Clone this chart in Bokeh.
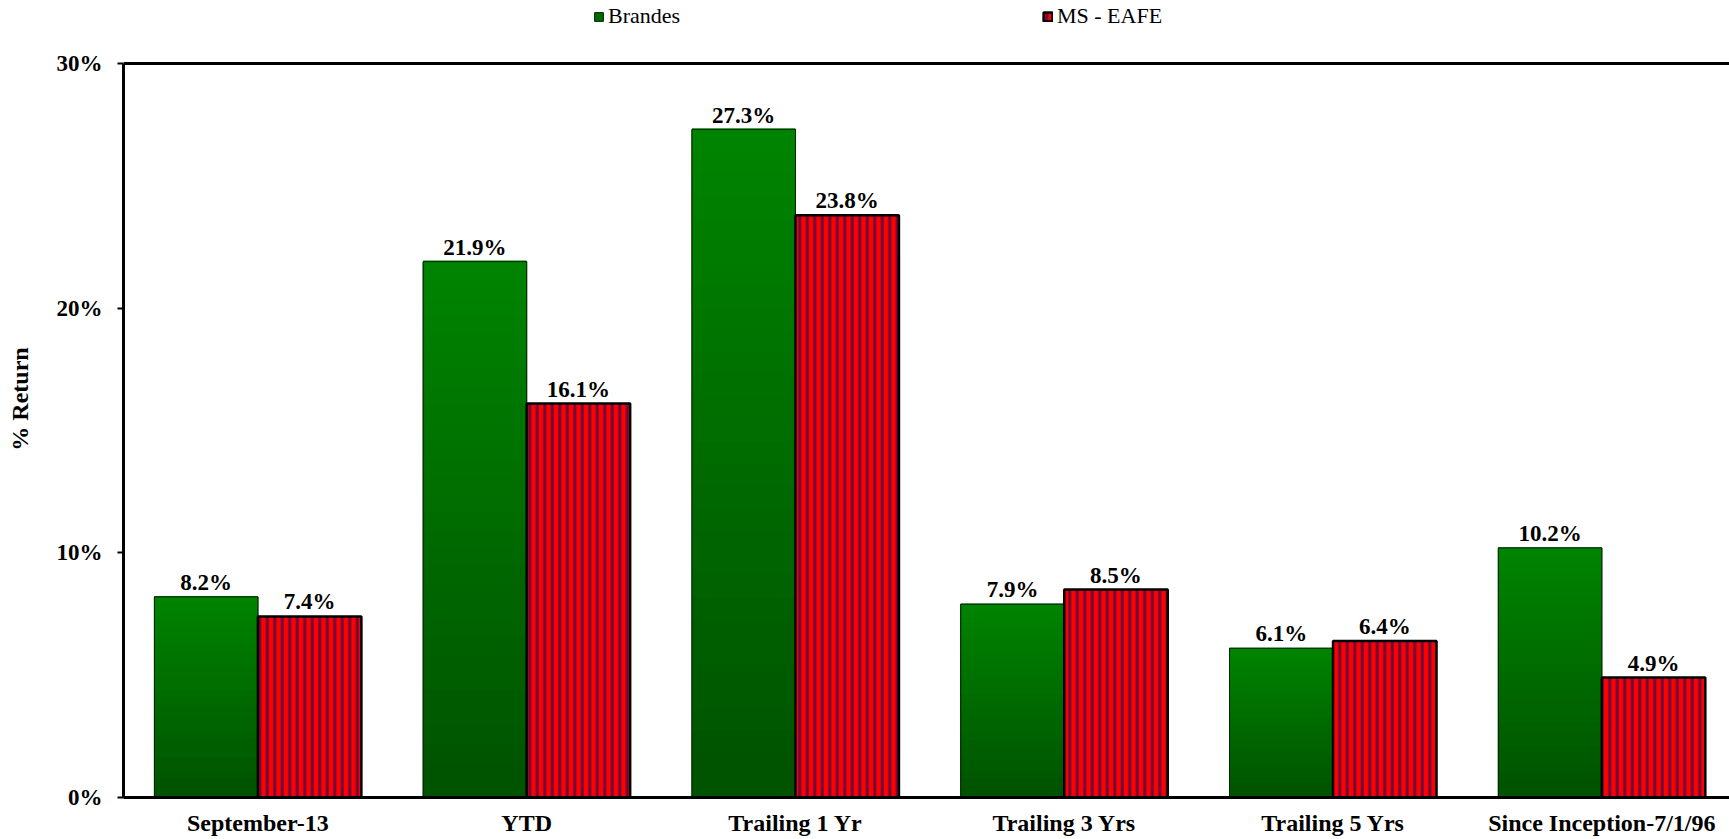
import numpy as np
from bokeh.plotting import figure
from bokeh.models import (ColumnDataSource, Range1d, FixedTicker, Span,
                          PrintfTickFormatter, Legend, LegendItem)
from bokeh.core.properties import value
from bokeh.embed import file_html
from bokeh.resources import INLINE

categories = ["September-13", "YTD", "Trailing 1 Yr", "Trailing 3 Yrs",
              "Trailing 5 Yrs", "Since Inception-7/1/96"]
brandes = [8.2, 21.9, 27.3, 7.9, 6.1, 10.2]
msci_eafe = [7.4, 16.1, 23.8, 8.5, 6.4, 4.9]
series_names = ["Brandes", "MS - EAFE"]
y_ticks = [0, 10, 20, 30]
y_max = 30

FONT = "Liberation Serif"
n = len(categories)
idx = np.arange(n) + 0.5
bw = 0.385
gx = idx - bw / 2
rx = idx + bw / 2

H, BOTTOM, TOP = 839, 42, 63
frame_h = H - BOTTOM
y_end = y_max * frame_h / (frame_h - TOP)

p = figure(width=1729, height=H, output_backend="svg", toolbar_location=None,
           x_range=Range1d(0, 5.975), y_range=Range1d(0, y_end),
           min_border_left=123, min_border_right=0, min_border_top=0,
           min_border_bottom=BOTTOM)
p.outline_line_color = None
p.xgrid.visible = False
p.ygrid.visible = False
p.background_fill_color = "white"
p.border_fill_color = "white"

# top border line of the plot area at 30%
p.add_layout(Span(location=y_max, dimension="width", line_color="black",
                  line_width=3))

# Brandes: base bars (for legend), gradient slices, outline
src_g = ColumnDataSource(dict(x=gx, top=brandes))
r_green = p.vbar(x="x", top="top", bottom=0, width=bw, source=src_g,
                 fill_color="#006a00", line_color="#002800", line_width=1)

N = 30
c_top = np.array([0x00, 0x84, 0x00])
c_bot = np.array([0x00, 0x52, 0x00])
sx, sb, st, sc = [], [], [], []
for xv, v in zip(gx, brandes):
    for k in range(N):
        f = (k + 0.5) / N
        c = c_bot + (c_top - c_bot) * f
        sx.append(xv)
        sb.append(v * k / N)
        st.append(v * (k + 1) / N + v * 0.002)
        sc.append("#%02x%02x%02x" % tuple(int(round(t)) for t in c))
src_s = ColumnDataSource(dict(x=sx, bottom=sb, top=st, color=sc))
p.vbar(x="x", top="top", bottom="bottom", width=bw, source=src_s,
       fill_color="color", line_color=None)
p.vbar(x="x", top="top", bottom=0, width=bw, source=src_g,
       fill_color=None, line_color="#002800", line_width=1)

# MS - EAFE: red hatched bars
src_r = ColumnDataSource(dict(x=rx, top=msci_eafe))
r_red = p.vbar(x="x", top="top", bottom=0, width=bw, source=src_r,
               fill_color="#ff0000", hatch_pattern="|", hatch_color="#6a0a3a",
               hatch_scale=7.5, hatch_weight=3, line_color="black", line_width=2.5)

# value labels
lab_g = ColumnDataSource(dict(x=gx, y=brandes, t=["%.1f%%" % v for v in brandes]))
lab_r = ColumnDataSource(dict(x=rx, y=msci_eafe, t=["%.1f%%" % v for v in msci_eafe]))
for s in (lab_g, lab_r):
    p.text(x="x", y="y", text="t", source=s, text_align="center",
           text_baseline="bottom", y_offset=-2,
           text_font=value(FONT), text_font_style="bold",
           text_font_size="23px", text_color="black")

# axes
xa = p.xaxis[0]
xa.ticker = FixedTicker(ticks=list(idx))
xa.major_label_overrides = {float(v): c for v, c in zip(idx, categories)}
xa.major_label_text_font = FONT
xa.major_label_text_font_style = "bold"
xa.major_label_text_font_size = "24px"
xa.major_label_text_color = "black"
xa.major_label_standoff = 12
xa.major_tick_out = 0
xa.major_tick_in = 0
xa.minor_tick_out = 0
xa.minor_tick_in = 0
xa.axis_line_width = 3
xa.axis_line_color = "black"

ya = p.yaxis[0]
ya.bounds = (0, y_max)
ya.ticker = FixedTicker(ticks=y_ticks)
ya.formatter = PrintfTickFormatter(format="%d%%")
ya.major_label_text_font = FONT
ya.major_label_text_font_style = "bold"
ya.major_label_text_font_size = "23px"
ya.major_label_text_color = "black"
ya.major_label_standoff = 15
ya.major_tick_out = 6
ya.major_tick_in = 0
ya.major_tick_line_width = 2
ya.minor_tick_out = 0
ya.minor_tick_in = 0
ya.axis_line_width = 3
ya.axis_line_color = "black"
ya.axis_label = "% Return"
ya.axis_label_text_font = FONT
ya.axis_label_text_font_style = "bold"
ya.axis_label_text_font_size = "24px"
ya.axis_label_text_color = "black"
ya.axis_label_standoff = 21

# legends (inside the enlarged frame, above the 30% line)
def mk_legend(label, rend, loc):
    return Legend(items=[LegendItem(label=label, renderers=[rend])],
                  location=loc, orientation="horizontal",
                  glyph_width=11, glyph_height=11, label_standoff=4,
                  padding=0, margin=0, spacing=0,
                  border_line_color=None, background_fill_alpha=0,
                  label_text_font=FONT, label_text_font_style="normal",
                  label_text_font_size="22px",
                  label_text_color="black", label_height=22)

p.add_layout(mk_legend(series_names[0], r_green, (470, 768)), "center")
p.add_layout(mk_legend(series_names[1], r_red, (919, 768)), "center")

open("out.html", "w").write(file_html(p, INLINE))
